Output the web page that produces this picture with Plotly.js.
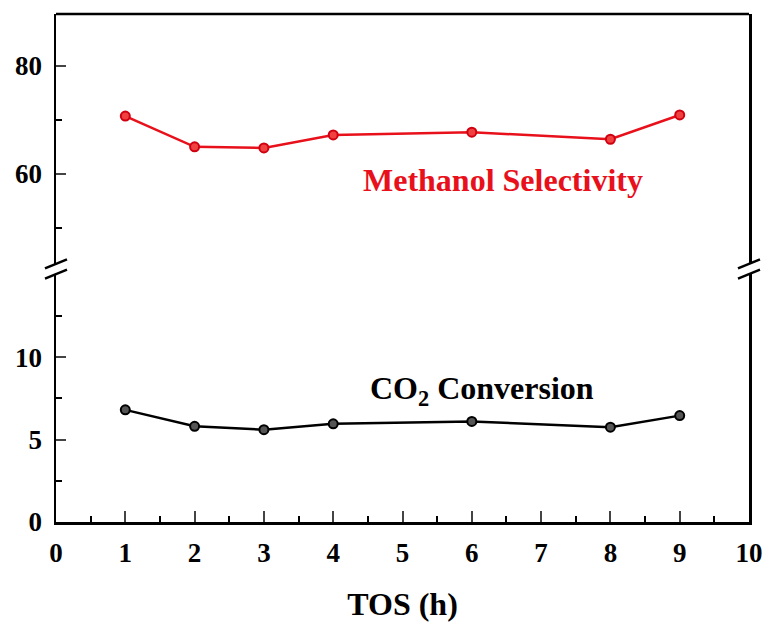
<!DOCTYPE html>
<html>
<head>
<meta charset="utf-8">
<script src="https://cdn.plot.ly/plotly-3.0.1.min.js"></script>
<style>html,body{margin:0;padding:0;background:#fff;}#chart{width:768px;height:623px;}</style>
</head>
<body>
<div id="chart"></div>
<script>
// Data
const tosHours = [1, 2, 3, 4, 6, 8, 9];
const methanolSelectivity = [70.7, 65.0, 64.8, 67.2, 67.7, 66.4, 70.9];
const co2Conversion = [6.8, 5.8, 5.6, 5.95, 6.1, 5.75, 6.45];
const xTickVals = [0, 1, 2, 3, 4, 5, 6, 7, 8, 9, 10];
const lowerTickVals = [0, 5, 10];
const upperTickVals = [60, 80];

const FONT = 'Liberation Serif, Times New Roman, serif';

const traces = [
  {
    x: tosHours, y: co2Conversion, xaxis: 'x', yaxis: 'y',
    mode: 'lines+markers', type: 'scatter', cliponaxis: false,
    line: {color: '#000000', width: 2.5},
    marker: {size: 9, color: '#555555', line: {color: '#000000', width: 2}}
  },
  {
    x: tosHours, y: methanolSelectivity, xaxis: 'x', yaxis: 'y2',
    mode: 'lines+markers', type: 'scatter', cliponaxis: false,
    line: {color: '#e8101a', width: 2.5},
    marker: {size: 9, color: '#f04040', line: {color: '#d00010', width: 2}}
  }
];

const lowerTop = 0.488, upperBottom = 0.508;

function slash(xa, ya) {
  return {type: 'line', xref: 'paper', yref: 'paper',
    xsizemode: 'pixel', xanchor: xa, x0: -11, x1: 11,
    ysizemode: 'pixel', yanchor: ya, y0: -4.5, y1: 4.5,
    line: {color: '#000', width: 2.5}};
}

const layout = {
  width: 768, height: 623,
  margin: {l: 56, r: 19, t: 14, b: 101},
  paper_bgcolor: '#fff', plot_bgcolor: '#fff',
  showlegend: false,
  font: {family: FONT, color: '#000', size: 22},
  xaxis: {
    range: [0, 10], domain: [0, 1], anchor: 'y',
    tickvals: xTickVals, ticks: 'inside', ticklen: 11, tickwidth: 2,
    minor: {dtick: 0.5, tick0: 0, ticks: 'inside', ticklen: 6, tickwidth: 2, tickcolor: '#000'},
    showline: true, linewidth: 2.5, linecolor: '#000', showgrid: false, zeroline: false,
    ticklabelstandoff: 5,
    tickfont: {family: FONT, size: 27, weight: 'bold'},
    title: {text: 'TOS (h)', font: {family: FONT, size: 32, weight: 'bold'}, standoff: 26}
  },
  yaxis: {
    domain: [0, lowerTop], range: [0, 15.03],
    tickvals: lowerTickVals, ticks: 'inside', ticklen: 10, tickwidth: 2,
    minor: {tickvals: [2.5, 7.5, 12.5], ticks: 'inside', ticklen: 6, tickwidth: 2, tickcolor: '#000'},
    showline: true, mirror: true, linewidth: 2.5, linecolor: '#000',
    showgrid: false, zeroline: false, ticklabelstandoff: 6,
    tickfont: {family: FONT, size: 27, weight: 'bold'}
  },
  yaxis2: {
    domain: [upperBottom, 1], range: [43.3, 89.6], anchor: 'x',
    tickvals: upperTickVals, ticks: 'inside', ticklen: 10, tickwidth: 2,
    minor: {tickvals: [50, 70, 90], ticks: 'inside', ticklen: 6, tickwidth: 2, tickcolor: '#000'},
    showline: true, mirror: true, linewidth: 2.5, linecolor: '#000',
    showgrid: false, zeroline: false, ticklabelstandoff: 6,
    tickfont: {family: FONT, size: 27, weight: 'bold'}
  },
  shapes: [
    {type: 'line', xref: 'paper', yref: 'paper', x0: 0, x1: 1, y0: 1, y1: 1,
     line: {color: '#000', width: 2.5}},
    slash(0, upperBottom), slash(0, lowerTop),
    slash(1, upperBottom), slash(1, lowerTop)
  ],
  annotations: [
    {xref: 'x', yref: 'y2', x: 6.45, y: 58.9, showarrow: false,
     text: 'Methanol Selectivity',
     font: {family: FONT, size: 32, color: '#e8101a', weight: 'bold'}},
    {xref: 'x', yref: 'y', x: 6.14, y: 8.0, showarrow: false,
     text: 'CO<sub>2</sub> Conversion',
     font: {family: FONT, size: 32, color: '#000', weight: 'bold'}}
  ]
};

Plotly.newPlot('chart', traces, layout, {displayModeBar: false, staticPlot: true});
</script>
</body>
</html>
